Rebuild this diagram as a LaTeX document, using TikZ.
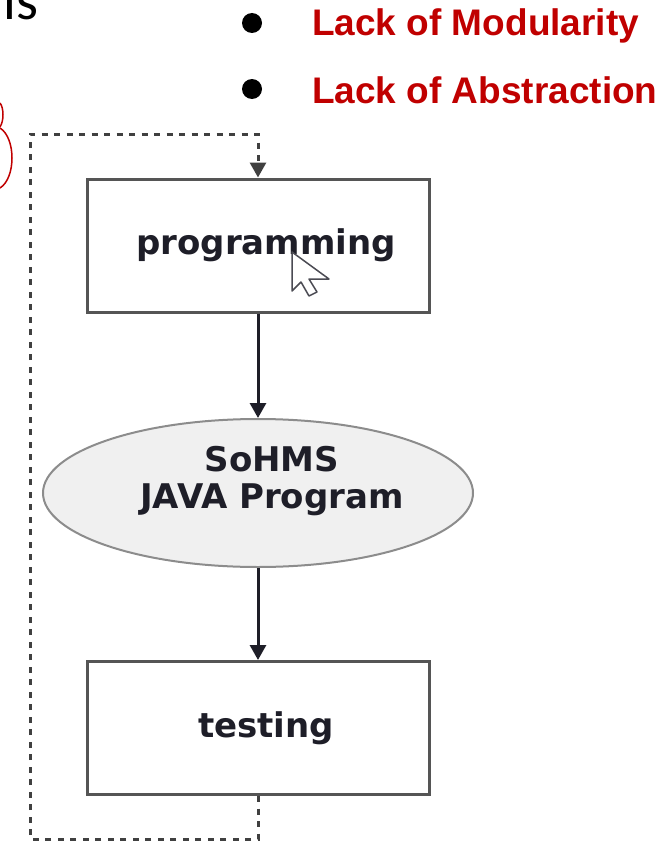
\documentclass[tikz,border=0pt]{standalone}
\usepackage{fontspec}
\setmainfont{DejaVu Sans}
\newfontfamily\flowfont{DejaVu Sans}
\newfontfamily\listfont{Liberation Sans}
\newfontfamily\slidefont{Carlito}
\usetikzlibrary{shapes.geometric,arrows.meta}
\definecolor{slidered}{HTML}{C00000}
\definecolor{boxgray}{HTML}{555555}
\definecolor{ellgray}{HTML}{8C8C8C}
\definecolor{ellfill}{HTML}{F0F0F0}
\definecolor{ink}{HTML}{1E1E28}
\definecolor{loopgray}{HTML}{404040}
\tikzset{
  stepbox/.style={draw=boxgray, line width=3pt, fill=white,
    minimum width=342pt, minimum height=133pt, inner sep=0pt,
    font=\flowfont\bfseries\fontsize{34}{40}\selectfont, text=ink},
  prodshape/.style={ellipse, draw=ellgray, line width=2pt, fill=ellfill,
    minimum width=430pt, minimum height=148pt, inner sep=0pt},
  prodtext/.style={align=center, inner sep=0pt,
    font=\flowfont\bfseries\fontsize{34}{37}\selectfont, text=ink},
  flow/.style={draw=ink, line width=3pt, -{Triangle[width=16pt,length=15pt]}},
  loopline/.style={draw=loopgray, line width=3pt, dash pattern=on 6pt off 6.5pt,
    -{Triangle[width=16pt,length=15pt]}},
  bulletdot/.style={circle, fill=black, minimum size=20pt, inner sep=0pt},
  listitem/.style={anchor=base west, inner sep=0pt, text=slidered,
    font=\listfont\bfseries\fontsize{37}{44}\selectfont},
  pointer/.style={draw=ink!80, line width=1.5pt, fill=white, line join=round},
  callout/.style={draw=slidered, line width=1.5pt}
}
\begin{document}
\begin{tikzpicture}[x=1pt,y=-1pt]
\useasboundingbox (0,0) rectangle (663,843);

% fragment of the slide heading, cut by the top edge
\node[anchor=base west, inner sep=0pt, font=\slidefont\fontsize{56}{60}\selectfont] (head) at (3,20) {is};

% red outline fragments at the left edge
\draw[callout] (0,103) .. controls (4,108) and (4,121) .. (0,127);
\draw[callout] (0,128) .. controls (16,138) and (16,178) .. (0,188);

% bullet list
\node[bulletdot] (b1) at (252,23) {};
\node[bulletdot] (b2) at (252,89) {};
\node[listitem] (l1) at (312,36) {Lack of Modularity};
\node[listitem] (l2) at (312,103) {Lack of Abstraction};

% flow chart
\node[stepbox] (prog) at (258,245.5) {\hspace*{16pt}programming};
\node[prodshape] (ell) at (258,493) {};
\node[prodtext] (elltext) at ([shift={(14,-12)}]ell.center) {SoHMS\\JAVA Program};
\node[stepbox] (test) at (258,728) {\hspace*{16pt}testing};

\draw[flow] (prog.south) -- (ell.north);
\draw[flow] (ell.south) -- (test.north);

% feedback loop
\coordinate (lb) at (30,839);
\coordinate (lt) at (30,134);
\draw[loopline] (test.south) |- (lb) -- (lt) -| (prog.north);

% mouse pointer over the first box
\draw[pointer] (292,252) -- (292,291) -- (301,282) -- (309,296) -- (317,292) -- (309,279) -- (329,279) -- cycle;
\end{tikzpicture}
\end{document}
